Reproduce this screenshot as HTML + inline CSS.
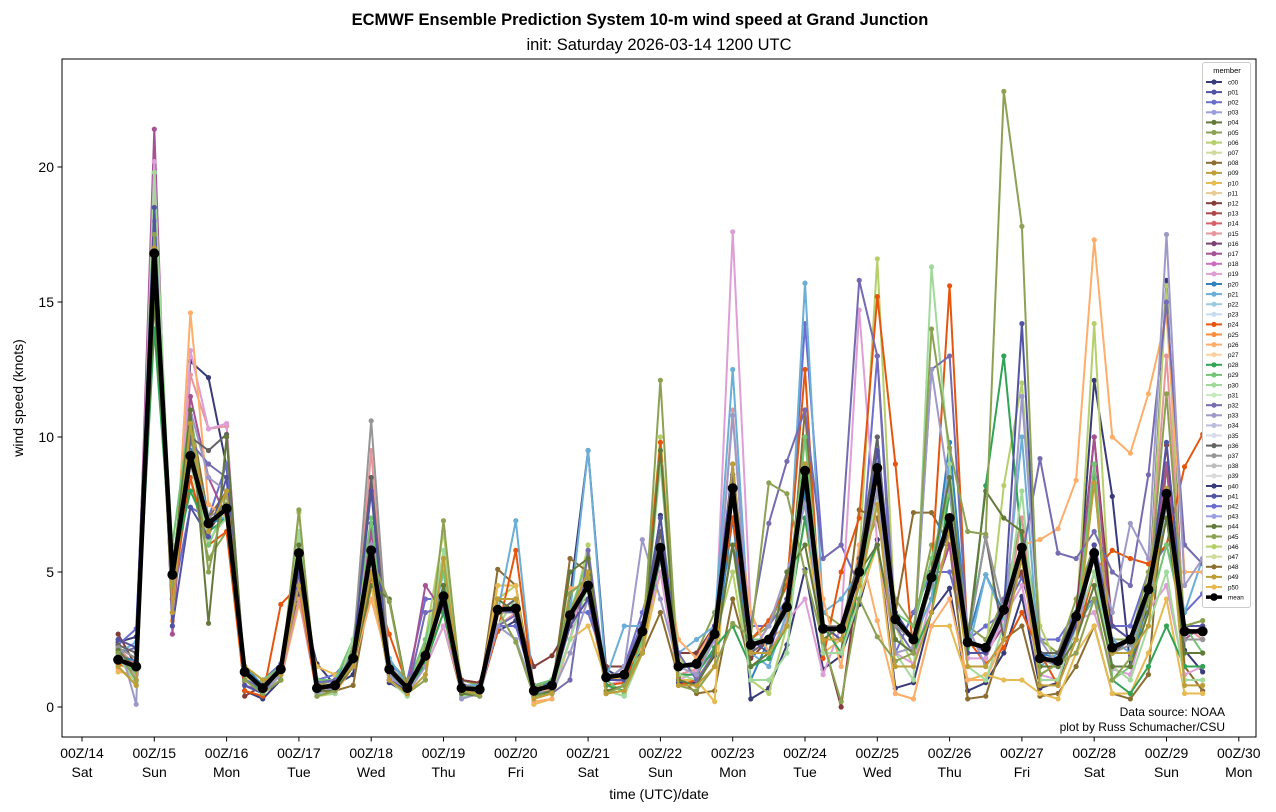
<!DOCTYPE html>
<html><head><meta charset="utf-8"><style>
body{margin:0;background:#fff;}
svg{display:block;font-family:"Liberation Sans","DejaVu Sans",sans-serif;}
</style></head><body>
<svg id="chart" width="1276" height="812">
<text x="640" y="25" text-anchor="middle" font-size="16.5" font-weight="bold">ECMWF Ensemble Prediction System 10-m wind speed at Grand Junction</text>
<text x="659" y="50" text-anchor="middle" font-size="16.5">init: Saturday 2026-03-14 1200 UTC</text>
<rect x="62" y="59" width="1194" height="678" fill="none" stroke="#000" stroke-width="1"/>
<g id="grid"></g><g id="series"></g><g id="axes"></g><g id="legend"></g>
<text x="1225" y="716" text-anchor="end" font-size="12">Data source: NOAA</text>
<text x="1225" y="731" text-anchor="end" font-size="12">plot by Russ Schumacher/CSU</text>
<text x="659" y="799" text-anchor="middle" font-size="14">time (UTC)/date</text>
<text transform="translate(23,398) rotate(-90)" text-anchor="middle" font-size="14">wind speed (knots)</text>
</svg>
<script>
const xTickLabels=["00Z/14","00Z/15","00Z/16","00Z/17","00Z/18","00Z/19","00Z/20","00Z/21","00Z/22","00Z/23","00Z/24","00Z/25","00Z/26","00Z/27","00Z/28","00Z/29","00Z/30"];
const xTickDays=["Sat","Sun","Mon","Tue","Wed","Thu","Fri","Sat","Sun","Mon","Tue","Wed","Thu","Fri","Sat","Sun","Mon"];
const yTicks=[0,5,10,15,20];
const memberNames=["c00","p01","p02","p03","p04","p05","p06","p07","p08","p09","p10","p11","p12","p13","p14","p15","p16","p17","p18","p19","p20","p21","p22","p23","p24","p25","p26","p27","p28","p29","p30","p31","p32","p33","p34","p35","p36","p37","p38","p39","p40","p41","p42","p43","p44","p45","p46","p47","p48","p49","p50"];
const memberColors=["#393b79","#5254a3","#6b6ecf","#9c9ede","#637939","#8ca252","#b5cf6b","#cedb9c","#8c6d31","#bd9e39","#e7ba52","#e7cb94","#843c39","#ad494a","#d6616b","#e7969c","#7b4173","#a55194","#ce6dbd","#de9ed6","#3182bd","#6baed6","#9ecae1","#c6dbef","#e6550d","#fd8d3c","#fdae6b","#fdd0a2","#31a354","#74c476","#a1d99b","#c7e9c0","#756bb1","#9e9ac8","#bcbddc","#dadaeb","#636363","#969696","#bdbdbd","#d9d9d9","#393b79","#5254a3","#6b6ecf","#9c9ede","#637939","#8ca252","#b5cf6b","#cedb9c","#8c6d31","#bd9e39","#e7ba52"];
// member values (knots), 6-hourly from 12Z/14
const c00=[2.4,2.6,19.1,3.5,12.8,12.2,8.9,0.6,0.3,1.0,4.2,1.6,0.8,1.2,6.8,0.9,0.5,2.3,4.0,0.4,0.5,2.8,3.2,0.8,0.9,4.1,9.5,1.4,1.0,2.1,7.1,0.9,0.9,1.9,8.6,0.3,0.7,2.3,5.1,1.4,1.9,3.8,6.2,0.7,0.9,3.5,4.4,0.6,0.9,2.0,4.1,0.7,0.9,3.0,12.1,7.8,1.5,3.8,15.8,2.1,1.3];
const p02=[2.3,2.9,17.5,4.0,7.4,7.0,9.0,1.5,1.0,1.6,4.5,1.0,1.2,2.0,5.0,1.6,1.0,4.0,4.0,1.0,0.8,3.0,3.0,0.8,1.0,3.5,3.5,1.5,1.5,3.5,6.0,2.0,2.0,3.0,7.0,3.0,3.0,4.0,14.2,5.5,6.0,4.5,13.0,2.0,3.5,5.0,5.0,2.5,3.0,3.5,4.8,2.5,2.5,3.5,4.0,3.0,3.0,5.0,6.0,3.5,4.2];
const p05=[2.1,1.2,16.0,5.5,8.5,5.5,6.5,1.5,1.0,1.2,6.5,0.8,1.0,2.2,6.5,1.7,1.0,2.2,5.0,1.0,0.8,4.0,4.0,0.7,1.0,3.8,4.0,1.5,1.5,3.0,7.0,2.0,2.0,3.5,6.0,2.5,3.0,4.5,9.0,3.5,3.0,5.5,7.0,4.0,3.0,6.0,6.0,3.0,2.5,4.0,7.0,2.5,2.0,4.0,6.0,2.5,2.5,5.0,9.0,3.0,3.2];
const p12=[2.7,1.5,17.0,4.5,9.0,6.5,7.5,0.4,0.8,1.5,5.0,1.0,0.9,1.8,5.5,1.5,0.8,2.0,4.0,1.0,0.9,3.5,3.5,1.5,1.9,3.0,4.0,1.5,1.5,2.5,5.5,2.0,2.0,3.0,8.0,1.8,2.5,4.0,8.0,2.5,0.0,5.0,8.5,3.0,2.5,5.0,6.5,2.5,2.0,4.0,5.0,2.0,2.0,3.5,10.0,3.0,2.5,4.0,9.7,3.0,3.0];
const p20=[1.9,1.7,15.5,4.0,9.5,6.8,7.0,1.5,0.8,1.5,5.0,1.0,1.0,2.0,6.0,1.5,0.8,2.0,4.5,0.8,0.8,3.5,4.0,0.5,1.0,3.5,5.0,1.0,1.5,3.0,6.0,1.5,1.5,2.0,7.0,1.0,2.5,3.5,8.0,3.0,3.0,5.0,9.0,3.5,2.5,4.5,9.8,2.5,4.9,3.5,5.5,2.0,1.8,3.5,5.5,1.5,1.5,4.0,7.5,2.5,2.5];
const p29=[1.7,1.3,16.5,6.0,11.0,6.0,7.5,1.5,1.0,1.5,6.0,1.0,1.0,2.5,7.0,1.5,0.8,2.5,5.0,0.5,0.5,3.5,3.5,0.8,1.0,3.5,5.5,1.0,0.5,2.5,9.0,1.5,1.5,2.5,8.0,2.5,2.5,3.5,10.0,3.0,2.5,5.0,7.5,3.5,3.0,5.5,8.0,2.5,2.0,4.0,6.0,1.5,1.5,3.0,9.0,1.0,1.5,3.5,6.0,3.0,2.0];
const p36=[2.3,2.0,17.0,4.5,10.0,9.5,10.1,1.2,0.8,1.5,5.0,0.8,0.8,2.0,8.5,1.5,0.8,2.0,4.5,0.8,0.7,3.5,4.0,0.7,0.8,3.5,5.0,1.2,1.2,2.8,6.5,1.5,1.5,3.0,8.5,2.0,2.5,4.0,8.5,3.0,3.0,5.5,10.0,3.0,2.5,5.0,6.5,2.5,6.3,2.5,6.0,2.0,2.0,3.5,6.0,2.0,2.5,4.5,8.0,2.8,2.8];
const p44=[2.1,1.4,15.0,5.0,11.0,3.1,10.0,1.0,0.5,1.0,6.0,0.6,0.6,1.5,4.5,4.0,0.6,1.8,4.5,0.5,0.4,4.0,3.5,0.4,0.6,5.0,5.5,0.6,0.8,2.0,9.5,1.0,0.8,2.0,6.0,1.5,2.0,5.0,6.0,2.5,3.0,5.0,6.0,2.5,2.0,5.0,8.5,2.5,8.0,7.0,6.5,1.5,1.5,2.5,4.5,1.5,1.5,3.5,7.0,2.0,2.0];
const p49=[1.5,0.8,17.0,3.5,10.5,6.5,8.0,1.5,1.0,1.2,4.5,0.8,0.8,1.5,5.0,1.0,0.5,1.2,5.5,0.6,0.5,4.0,4.0,0.3,0.5,3.5,5.0,0.5,0.6,2.0,6.0,0.8,0.8,1.5,9.0,2.0,2.0,3.0,9.0,2.5,2.5,4.5,7.5,1.5,1.5,3.5,6.5,1.5,1.5,2.5,5.5,0.8,0.8,2.5,8.3,2.0,2.0,3.0,8.1,0.8,0.8];
const p45=[2.0,1.0,17.5,4.5,10.5,5.0,8.0,1.0,0.5,1.0,7.3,0.4,0.6,2.0,5.5,3.9,0.5,1.0,6.9,0.6,0.4,3.6,2.4,0.4,0.5,4.2,4.8,0.5,0.8,2.0,12.1,0.8,0.6,1.5,3.1,2.6,8.3,7.9,5.0,2.4,0.2,4.0,2.6,1.7,2.0,14.0,9.6,6.5,6.4,22.8,17.8,1.2,1.6,2.0,4.0,1.0,1.8,4.0,11.6,3.0,3.2];
const p19=[1.8,1.2,20.2,3.0,13.2,10.3,10.5,0.8,0.5,1.2,4.8,0.6,0.7,1.6,5.0,1.1,0.6,1.5,3.0,0.6,0.6,3.0,3.4,0.5,0.5,2.5,5.5,0.8,1.0,2.6,5.0,1.0,1.3,2.0,17.6,3.4,2.0,3.2,4.0,1.2,3.0,14.7,6.0,2.0,1.6,4.0,9.5,1.8,1.8,3.3,4.5,1.2,1.0,3.2,3.5,1.4,1.2,3.6,4.5,1.2,1.5];
const p24=[1.6,1.3,17.0,4.0,8.5,6.0,6.5,0.6,0.4,3.8,4.5,0.4,0.7,1.8,4.8,2.7,0.8,1.7,3.5,0.5,0.5,2.8,5.8,0.6,0.7,3.0,4.0,0.8,0.9,2.5,9.8,0.8,1.0,3.0,7.0,2.5,3.2,4.5,12.5,1.8,5.0,7.0,15.2,9.0,2.0,5.0,15.6,2.5,1.6,2.2,3.5,2.0,0.8,2.5,5.0,5.8,5.5,5.3,6.0,8.9,10.1];
const p32=[2.0,2.2,16.0,4.5,9.8,9.0,8.5,1.0,0.7,1.5,5.0,0.9,1.0,1.5,5.0,1.0,0.5,3.5,3.7,0.9,0.5,3.0,3.4,0.6,0.5,1.0,5.8,1.0,1.5,3.1,5.5,2.0,1.0,2.0,6.0,3.0,6.8,9.1,11.0,5.5,6.0,15.8,13.0,3.0,2.0,12.5,13.0,2.5,2.0,4.0,5.5,9.2,5.7,5.5,6.5,5.0,4.5,8.6,15.0,6.0,5.3];
const p21=[2.0,2.4,17.0,4.6,10.0,7.0,7.0,1.0,0.8,1.5,5.5,1.0,0.9,2.0,6.0,1.8,0.8,2.0,5.0,0.8,0.8,3.5,6.9,0.6,0.8,3.5,9.5,1.1,3.0,3.0,6.0,2.0,2.5,3.0,12.5,2.0,1.5,3.5,15.7,3.5,4.0,5.0,10.0,3.0,2.5,4.0,9.0,2.0,4.9,3.3,10.0,1.5,2.0,3.0,4.0,2.5,2.0,4.0,7.0,3.5,5.5];
const p26=[1.4,1.0,18.0,3.2,14.6,7.5,7.0,1.5,1.0,1.4,5.5,0.5,0.5,1.5,4.0,1.5,0.8,1.6,5.3,0.8,0.5,3.0,4.0,0.2,0.3,4.4,4.5,1.0,1.3,2.2,6.5,2.5,1.8,3.0,8.5,3.5,2.0,3.0,9.0,4.0,1.5,6.0,3.2,0.5,0.3,3.0,4.0,1.0,1.0,2.5,6.0,6.2,6.6,8.4,17.3,10.0,9.4,11.6,14.5,5.0,5.0];
const p33=[2.5,0.1,18.0,3.5,11.0,8.5,8.0,0.8,0.5,1.2,5.0,0.5,0.7,1.6,6.0,1.2,0.5,1.5,4.5,0.3,0.5,3.0,2.5,0.6,0.5,2.0,4.0,1.0,1.5,6.2,4.0,1.5,1.2,2.5,10.8,2.0,3.0,5.0,7.5,2.5,3.0,5.2,8.0,2.0,2.2,12.5,8.0,3.0,1.5,2.5,11.5,2.5,1.5,2.5,6.0,3.5,6.8,5.5,17.5,4.5,5.5];
const p06=[1.5,0.8,19.5,4.5,10.5,6.5,7.5,1.2,0.6,1.2,7.2,0.4,0.5,1.8,7.0,1.0,0.4,2.5,6.5,0.5,0.5,4.0,4.5,0.5,0.8,3.0,6.0,0.5,0.6,2.8,10.0,1.8,1.2,2.5,5.0,1.0,0.5,3.0,10.0,3.0,2.5,5.5,16.6,3.0,1.5,5.0,8.0,2.5,2.0,8.2,12.0,3.0,1.5,3.0,14.2,2.0,2.0,3.5,15.6,1.5,1.5];
const p30=[1.8,0.9,19.8,5.0,9.0,6.2,7.0,1.0,0.5,1.0,6.5,0.5,0.5,2.5,5.5,1.0,0.4,2.0,5.8,0.4,0.5,3.0,4.0,0.4,0.6,2.5,4.5,0.6,0.4,2.0,9.0,1.2,1.0,2.0,6.0,1.0,1.0,2.0,8.5,2.0,2.0,4.0,8.0,2.0,1.0,16.3,9.0,1.5,1.0,3.0,8.0,1.0,1.0,3.0,5.0,1.5,1.0,3.0,5.0,1.0,1.0];
const p28=[2.2,1.8,14.0,5.0,8.0,6.5,7.0,1.0,0.6,1.4,5.5,0.8,0.7,1.9,5.5,1.3,0.6,1.6,3.5,0.6,0.6,3.5,3.5,0.5,0.5,3.2,4.5,0.8,0.6,2.5,5.5,1.2,1.2,2.2,3.0,1.5,1.8,3.0,7.0,3.0,2.0,4.5,6.0,2.5,2.0,3.5,8.0,2.0,8.2,13.0,6.0,2.0,1.5,3.0,8.5,1.0,0.5,1.5,3.0,1.5,1.5];
const p41=[2.5,2.2,18.5,3.0,7.4,6.3,8.5,0.8,0.5,1.5,5.0,0.7,0.8,2.0,8.0,1.0,0.6,2.0,4.0,0.6,0.6,3.6,3.5,0.7,0.7,3.0,4.0,1.0,1.0,3.0,7.0,1.5,1.5,3.0,9.0,2.5,2.0,4.0,9.0,3.0,2.5,5.0,9.5,3.5,2.5,5.0,7.0,2.0,2.0,3.5,14.2,2.0,1.5,3.0,6.0,3.0,2.5,4.0,9.8,3.0,3.0];
const p37=[2.2,1.8,16.5,5.0,9.0,7.0,7.5,1.2,0.8,1.5,5.5,0.7,0.8,2.0,10.6,1.5,0.8,2.0,4.0,0.8,0.7,3.5,3.5,0.7,0.8,3.2,4.5,1.2,1.2,2.8,6.0,1.5,1.5,2.8,8.0,2.3,2.5,3.5,9.0,3.0,3.0,5.0,9.0,3.0,2.5,4.5,7.0,2.5,6.3,3.5,5.5,1.8,1.5,3.2,5.5,2.0,2.3,4.0,7.5,2.5,2.5];
const p08=[2.0,1.6,16.0,5.0,10.8,7.0,8.0,1.0,0.6,1.5,4.5,0.6,0.6,0.8,4.5,1.2,0.7,1.5,3.0,0.5,0.5,5.1,4.5,0.5,0.6,5.5,5.0,0.5,0.8,2.0,3.5,1.1,0.5,0.6,4.0,1.5,2.0,3.0,11.0,2.0,2.0,7.3,7.0,3.5,7.2,7.2,6.0,0.3,0.4,2.5,3.0,0.4,0.5,1.5,3.0,0.5,0.3,1.2,9.0,1.5,0.6];
const p10=[1.3,1.2,17.8,3.2,10.0,6.5,7.0,1.2,0.6,1.0,3.8,1.5,1.2,1.5,4.5,1.2,0.5,1.0,5.5,0.6,0.5,4.5,4.5,0.1,0.3,2.5,3.0,1.0,1.1,2.0,5.0,1.0,1.0,0.2,9.0,2.5,2.5,3.0,7.0,2.0,2.5,4.0,6.0,0.5,0.3,3.0,3.0,1.0,1.2,1.0,1.0,0.5,0.3,2.0,3.0,0.5,0.5,2.0,4.0,0.5,0.5];
const p15=[2.2,1.5,19.8,3.2,12.3,10.3,10.4,0.8,0.5,1.0,4.0,0.5,0.7,1.5,9.5,1.0,0.7,2.0,4.2,0.6,0.6,3.0,3.5,0.5,0.5,3.2,5.0,1.0,1.0,2.5,6.0,1.2,1.4,2.5,11.0,2.0,2.0,3.0,8.0,2.5,2.5,5.0,9.0,3.0,2.5,4.5,6.0,2.0,2.0,3.0,7.0,1.8,1.6,3.0,6.0,2.0,2.5,4.0,13.0,3.0,2.5];
const p17=[2.0,1.5,21.4,2.7,11.5,8.5,7.0,0.8,0.6,1.4,5.0,0.7,0.9,1.6,6.5,1.2,0.6,4.5,3.5,0.6,0.5,3.5,3.5,0.6,0.7,3.0,4.5,1.0,1.0,2.5,5.5,1.5,1.5,2.5,7.0,2.0,2.0,3.0,8.0,2.5,2.5,4.5,8.0,3.0,2.5,4.0,6.0,2.0,2.0,3.0,5.5,1.5,1.5,3.0,10.0,2.0,2.5,4.0,9.0,2.5,3.0];
const meanValues=[1.75,1.5,16.8,4.9,9.3,6.8,7.35,1.3,0.7,1.4,5.7,0.7,0.8,1.8,5.8,1.4,0.7,1.9,4.1,0.7,0.65,3.6,3.65,0.6,0.8,3.4,4.5,1.1,1.2,2.8,5.9,1.5,1.6,2.7,8.1,2.3,2.5,3.7,8.75,2.9,2.9,5.0,8.85,3.25,2.5,4.8,7.0,2.4,2.2,3.6,5.9,1.8,1.7,3.35,5.7,2.2,2.5,4.35,7.9,2.8,2.8];

const plotted=[["c00",c00],["p02",p02],["p05",p05],["p06",p06],["p08",p08],["p10",p10],["p12",p12],["p15",p15],["p17",p17],["p19",p19],["p20",p20],["p21",p21],["p24",p24],["p26",p26],["p28",p28],["p29",p29],["p30",p30],["p32",p32],["p33",p33],["p36",p36],["p37",p37],["p41",p41],["p44",p44],["p45",p45],["p49",p49]];

const NS="http://www.w3.org/2000/svg";
const xPx=h=>82+h*(72.3/24);
const yPx=v=>707-v*27;
const hourOf=i=>12+6*i;
function el(tag,attrs,parent){const e=document.createElementNS(NS,tag);for(const k in attrs)e.setAttribute(k,attrs[k]);parent.appendChild(e);return e;}
const axes=document.getElementById('axes'),series=document.getElementById('series'),legend=document.getElementById('legend');

xTickLabels.forEach((t,i)=>{
  const x=xPx(i*24);
  const tk=el('line',{x1:x,x2:x,y1:737,y2:741.5,stroke:'#000'},axes);
  
  
  const tx=el('text',{x:x,y:758,'text-anchor':'middle','font-size':14},axes);
  
  
  tx.textContent=t;
  const td=el('text',{x:x,y:777,'text-anchor':'middle','font-size':14},axes);
  
  
  td.textContent=xTickDays[i];
});
yTicks.forEach(v=>{
  const y=yPx(v);
  const tk=el('line',{x1:57.5,x2:62,y1:y,y2:y,stroke:'#000'},axes);
  
  
  const tx=el('text',{x:54,y:y+5,'text-anchor':'end','font-size':14},axes);
  
  
  tx.textContent=v;
});

function drawSeries(vals,color,w,r,name){
  const g=el('g',{},series);
  
  
  const pts=vals.map((v,i)=>xPx(hourOf(i)).toFixed(1)+','+yPx(v).toFixed(1)).join(' ');
  const pl=el('polyline',{points:pts,fill:'none',stroke:color,'stroke-width':w,'stroke-linejoin':'round'},g);
  
  
  vals.forEach((v,i)=>{
    const c=el('circle',{cx:xPx(hourOf(i)),cy:yPx(v),r:r,fill:color},g);
    
    
  });
}
plotted.forEach(([n,vals])=>drawSeries(vals,memberColors[memberNames.indexOf(n)],2,2.6,n));
drawSeries(meanValues,'#000',4.5,5,'mean');

const lb=el('rect',{x:1202.5,y:62.5,width:48,height:545,fill:'#fff',stroke:'#ccc',rx:2},legend);


const lt=el('text',{x:1227,y:73,'text-anchor':'middle','font-size':7.5},legend);


lt.textContent='member';
const legNames=memberNames.concat(['mean']);
legNames.forEach((n,i)=>{
  const y=82+i*10.1;
  const col=n==='mean'?'#000':memberColors[i];
  const g=el('g',{},legend);
  
  
  el('line',{x1:1206,x2:1222,y1:y,y2:y,stroke:col,'stroke-width':n==='mean'?3.5:2},g);
  el('circle',{cx:1214,cy:y,r:n==='mean'?3.8:2.6,fill:col},g);
  const t=el('text',{x:1228,y:y+2.3,'font-size':6.3},g);
  t.textContent=n;
});
</script>
</body></html>
